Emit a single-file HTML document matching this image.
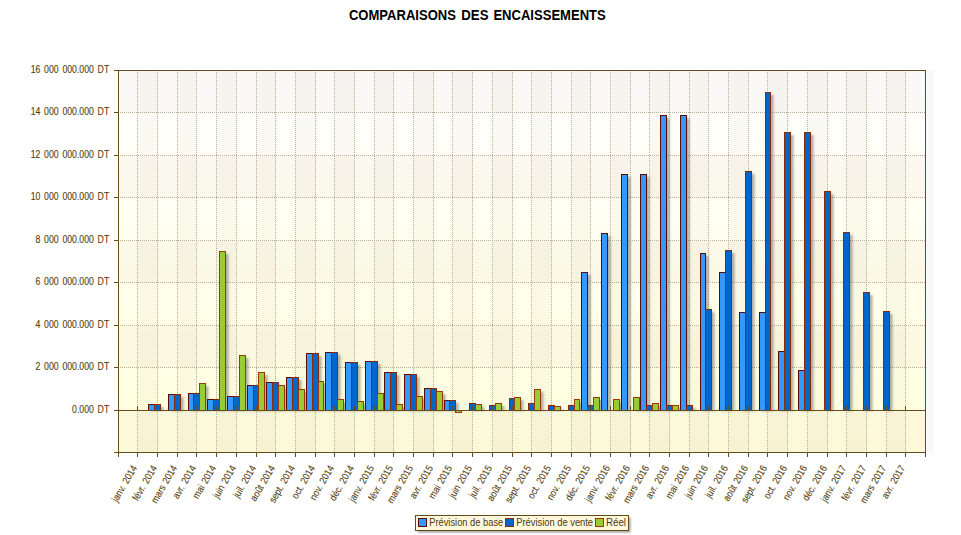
<!DOCTYPE html><html><head><meta charset="utf-8"><style>html,body{margin:0;padding:0;background:#fff;}svg{display:block;font-family:"Liberation Sans",sans-serif;}</style></head><body>
<svg width="961" height="535" viewBox="0 0 961 535">
<defs>
<linearGradient id="bg" x1="0" y1="0" x2="0" y2="1">
<stop offset="0" stop-color="#ffffff"/>
<stop offset="1" stop-color="#ffffdd"/>
</linearGradient>
<filter id="sh" x="-50%" y="-10%" width="200%" height="120%"><feGaussianBlur stdDeviation="1.2"/></filter>
</defs>
<rect x="0" y="0" width="961" height="535" fill="#fff"/>
<text x="348.9" y="19.8" font-weight="bold" font-size="14" textLength="107.0" lengthAdjust="spacingAndGlyphs" fill="#000">COMPARAISONS</text>
<text x="461.3" y="19.8" font-weight="bold" font-size="14" textLength="27.2" lengthAdjust="spacingAndGlyphs" fill="#000">DES</text>
<text x="493.4" y="19.8" font-weight="bold" font-size="14" textLength="112.4" lengthAdjust="spacingAndGlyphs" fill="#000">ENCAISSEMENTS</text>
<rect x="927" y="70" width="7" height="383" fill="#f9f9f8"/>
<rect x="119" y="71" width="806" height="381" fill="url(#bg)"/>
<rect x="119" y="71" width="806" height="42" fill="#a07a5a" fill-opacity="0.045"/>
<rect x="119" y="156" width="806" height="42" fill="#a07a5a" fill-opacity="0.045"/>
<rect x="119" y="241" width="806" height="42" fill="#a07a5a" fill-opacity="0.045"/>
<rect x="119" y="326" width="806" height="42" fill="#a07a5a" fill-opacity="0.045"/>
<rect x="119" y="411" width="806" height="42" fill="#a07a5a" fill-opacity="0.045"/>
<rect x="138" y="71" width="20" height="381" fill="#a07a5a" fill-opacity="0.045"/>
<rect x="178" y="71" width="19" height="381" fill="#a07a5a" fill-opacity="0.045"/>
<rect x="217" y="71" width="20" height="381" fill="#a07a5a" fill-opacity="0.045"/>
<rect x="257" y="71" width="19" height="381" fill="#a07a5a" fill-opacity="0.045"/>
<rect x="296" y="71" width="20" height="381" fill="#a07a5a" fill-opacity="0.045"/>
<rect x="335" y="71" width="20" height="381" fill="#a07a5a" fill-opacity="0.045"/>
<rect x="375" y="71" width="19" height="381" fill="#a07a5a" fill-opacity="0.045"/>
<rect x="414" y="71" width="20" height="381" fill="#a07a5a" fill-opacity="0.045"/>
<rect x="453" y="71" width="20" height="381" fill="#a07a5a" fill-opacity="0.045"/>
<rect x="493" y="71" width="20" height="381" fill="#a07a5a" fill-opacity="0.045"/>
<rect x="532" y="71" width="20" height="381" fill="#a07a5a" fill-opacity="0.045"/>
<rect x="572" y="71" width="19" height="381" fill="#a07a5a" fill-opacity="0.045"/>
<rect x="611" y="71" width="20" height="381" fill="#a07a5a" fill-opacity="0.045"/>
<rect x="650" y="71" width="20" height="381" fill="#a07a5a" fill-opacity="0.045"/>
<rect x="690" y="71" width="19" height="381" fill="#a07a5a" fill-opacity="0.045"/>
<rect x="729" y="71" width="20" height="381" fill="#a07a5a" fill-opacity="0.045"/>
<rect x="768" y="71" width="20" height="381" fill="#a07a5a" fill-opacity="0.045"/>
<rect x="808" y="71" width="20" height="381" fill="#a07a5a" fill-opacity="0.045"/>
<rect x="847" y="71" width="20" height="381" fill="#a07a5a" fill-opacity="0.045"/>
<rect x="887" y="71" width="19" height="381" fill="#a07a5a" fill-opacity="0.045"/>
<line x1="137.5" y1="72" x2="137.5" y2="452" stroke="#b8ad92" stroke-width="1" stroke-dasharray="1 1"/>
<line x1="157.5" y1="72" x2="157.5" y2="452" stroke="#b8ad92" stroke-width="1" stroke-dasharray="1 1"/>
<line x1="177.5" y1="72" x2="177.5" y2="452" stroke="#b8ad92" stroke-width="1" stroke-dasharray="1 1"/>
<line x1="196.5" y1="72" x2="196.5" y2="452" stroke="#b8ad92" stroke-width="1" stroke-dasharray="1 1"/>
<line x1="216.5" y1="72" x2="216.5" y2="452" stroke="#b8ad92" stroke-width="1" stroke-dasharray="1 1"/>
<line x1="236.5" y1="72" x2="236.5" y2="452" stroke="#b8ad92" stroke-width="1" stroke-dasharray="1 1"/>
<line x1="256.5" y1="72" x2="256.5" y2="452" stroke="#b8ad92" stroke-width="1" stroke-dasharray="1 1"/>
<line x1="275.5" y1="72" x2="275.5" y2="452" stroke="#b8ad92" stroke-width="1" stroke-dasharray="1 1"/>
<line x1="295.5" y1="72" x2="295.5" y2="452" stroke="#b8ad92" stroke-width="1" stroke-dasharray="1 1"/>
<line x1="315.5" y1="72" x2="315.5" y2="452" stroke="#b8ad92" stroke-width="1" stroke-dasharray="1 1"/>
<line x1="334.5" y1="72" x2="334.5" y2="452" stroke="#b8ad92" stroke-width="1" stroke-dasharray="1 1"/>
<line x1="354.5" y1="72" x2="354.5" y2="452" stroke="#b8ad92" stroke-width="1" stroke-dasharray="1 1"/>
<line x1="374.5" y1="72" x2="374.5" y2="452" stroke="#b8ad92" stroke-width="1" stroke-dasharray="1 1"/>
<line x1="393.5" y1="72" x2="393.5" y2="452" stroke="#b8ad92" stroke-width="1" stroke-dasharray="1 1"/>
<line x1="413.5" y1="72" x2="413.5" y2="452" stroke="#b8ad92" stroke-width="1" stroke-dasharray="1 1"/>
<line x1="433.5" y1="72" x2="433.5" y2="452" stroke="#b8ad92" stroke-width="1" stroke-dasharray="1 1"/>
<line x1="452.5" y1="72" x2="452.5" y2="452" stroke="#b8ad92" stroke-width="1" stroke-dasharray="1 1"/>
<line x1="472.5" y1="72" x2="472.5" y2="452" stroke="#b8ad92" stroke-width="1" stroke-dasharray="1 1"/>
<line x1="492.5" y1="72" x2="492.5" y2="452" stroke="#b8ad92" stroke-width="1" stroke-dasharray="1 1"/>
<line x1="512.5" y1="72" x2="512.5" y2="452" stroke="#b8ad92" stroke-width="1" stroke-dasharray="1 1"/>
<line x1="531.5" y1="72" x2="531.5" y2="452" stroke="#b8ad92" stroke-width="1" stroke-dasharray="1 1"/>
<line x1="551.5" y1="72" x2="551.5" y2="452" stroke="#b8ad92" stroke-width="1" stroke-dasharray="1 1"/>
<line x1="571.5" y1="72" x2="571.5" y2="452" stroke="#b8ad92" stroke-width="1" stroke-dasharray="1 1"/>
<line x1="590.5" y1="72" x2="590.5" y2="452" stroke="#b8ad92" stroke-width="1" stroke-dasharray="1 1"/>
<line x1="610.5" y1="72" x2="610.5" y2="452" stroke="#b8ad92" stroke-width="1" stroke-dasharray="1 1"/>
<line x1="630.5" y1="72" x2="630.5" y2="452" stroke="#b8ad92" stroke-width="1" stroke-dasharray="1 1"/>
<line x1="649.5" y1="72" x2="649.5" y2="452" stroke="#b8ad92" stroke-width="1" stroke-dasharray="1 1"/>
<line x1="669.5" y1="72" x2="669.5" y2="452" stroke="#b8ad92" stroke-width="1" stroke-dasharray="1 1"/>
<line x1="689.5" y1="72" x2="689.5" y2="452" stroke="#b8ad92" stroke-width="1" stroke-dasharray="1 1"/>
<line x1="708.5" y1="72" x2="708.5" y2="452" stroke="#b8ad92" stroke-width="1" stroke-dasharray="1 1"/>
<line x1="728.5" y1="72" x2="728.5" y2="452" stroke="#b8ad92" stroke-width="1" stroke-dasharray="1 1"/>
<line x1="748.5" y1="72" x2="748.5" y2="452" stroke="#b8ad92" stroke-width="1" stroke-dasharray="1 1"/>
<line x1="767.5" y1="72" x2="767.5" y2="452" stroke="#b8ad92" stroke-width="1" stroke-dasharray="1 1"/>
<line x1="787.5" y1="72" x2="787.5" y2="452" stroke="#b8ad92" stroke-width="1" stroke-dasharray="1 1"/>
<line x1="807.5" y1="72" x2="807.5" y2="452" stroke="#b8ad92" stroke-width="1" stroke-dasharray="1 1"/>
<line x1="827.5" y1="72" x2="827.5" y2="452" stroke="#b8ad92" stroke-width="1" stroke-dasharray="1 1"/>
<line x1="846.5" y1="72" x2="846.5" y2="452" stroke="#b8ad92" stroke-width="1" stroke-dasharray="1 1"/>
<line x1="866.5" y1="72" x2="866.5" y2="452" stroke="#b8ad92" stroke-width="1" stroke-dasharray="1 1"/>
<line x1="886.5" y1="72" x2="886.5" y2="452" stroke="#b8ad92" stroke-width="1" stroke-dasharray="1 1"/>
<line x1="905.5" y1="72" x2="905.5" y2="452" stroke="#b8ad92" stroke-width="1" stroke-dasharray="1 1"/>
<line x1="120" y1="112.5" x2="925" y2="112.5" stroke="#b8ad92" stroke-width="1" stroke-dasharray="1 1"/>
<line x1="120" y1="155.5" x2="925" y2="155.5" stroke="#b8ad92" stroke-width="1" stroke-dasharray="1 1"/>
<line x1="120" y1="197.5" x2="925" y2="197.5" stroke="#b8ad92" stroke-width="1" stroke-dasharray="1 1"/>
<line x1="120" y1="240.5" x2="925" y2="240.5" stroke="#b8ad92" stroke-width="1" stroke-dasharray="1 1"/>
<line x1="120" y1="282.5" x2="925" y2="282.5" stroke="#b8ad92" stroke-width="1" stroke-dasharray="1 1"/>
<line x1="120" y1="325.5" x2="925" y2="325.5" stroke="#b8ad92" stroke-width="1" stroke-dasharray="1 1"/>
<line x1="120" y1="367.5" x2="925" y2="367.5" stroke="#b8ad92" stroke-width="1" stroke-dasharray="1 1"/>
<line x1="120" y1="410.5" x2="925" y2="410.5" stroke="#b8ad92" stroke-width="1" stroke-dasharray="1 1"/>
<rect x="150.5" y="407" width="7" height="4" fill="#404040" fill-opacity="0.42" filter="url(#sh)"/>
<rect x="156.5" y="407" width="7" height="4" fill="#404040" fill-opacity="0.42" filter="url(#sh)"/>
<rect x="170.5" y="397" width="7" height="14" fill="#404040" fill-opacity="0.42" filter="url(#sh)"/>
<rect x="176.5" y="397" width="7" height="14" fill="#404040" fill-opacity="0.42" filter="url(#sh)"/>
<rect x="190.5" y="396" width="6" height="15" fill="#404040" fill-opacity="0.42" filter="url(#sh)"/>
<rect x="195.5" y="396" width="7" height="15" fill="#404040" fill-opacity="0.42" filter="url(#sh)"/>
<rect x="201.5" y="386" width="7" height="25" fill="#404040" fill-opacity="0.42" filter="url(#sh)"/>
<rect x="209.5" y="402" width="7" height="9" fill="#404040" fill-opacity="0.42" filter="url(#sh)"/>
<rect x="215.5" y="402" width="7" height="9" fill="#404040" fill-opacity="0.42" filter="url(#sh)"/>
<rect x="221.5" y="254" width="7" height="157" fill="#404040" fill-opacity="0.42" filter="url(#sh)"/>
<rect x="229.5" y="399" width="7" height="12" fill="#404040" fill-opacity="0.42" filter="url(#sh)"/>
<rect x="235.5" y="399" width="7" height="12" fill="#404040" fill-opacity="0.42" filter="url(#sh)"/>
<rect x="241.5" y="358" width="7" height="53" fill="#404040" fill-opacity="0.42" filter="url(#sh)"/>
<rect x="249.5" y="388" width="7" height="23" fill="#404040" fill-opacity="0.42" filter="url(#sh)"/>
<rect x="255.5" y="388" width="6" height="23" fill="#404040" fill-opacity="0.42" filter="url(#sh)"/>
<rect x="260.5" y="375" width="7" height="36" fill="#404040" fill-opacity="0.42" filter="url(#sh)"/>
<rect x="268.5" y="385" width="7" height="26" fill="#404040" fill-opacity="0.42" filter="url(#sh)"/>
<rect x="274.5" y="385" width="7" height="26" fill="#404040" fill-opacity="0.42" filter="url(#sh)"/>
<rect x="280.5" y="388" width="7" height="23" fill="#404040" fill-opacity="0.42" filter="url(#sh)"/>
<rect x="288.5" y="380" width="7" height="31" fill="#404040" fill-opacity="0.42" filter="url(#sh)"/>
<rect x="294.5" y="380" width="7" height="31" fill="#404040" fill-opacity="0.42" filter="url(#sh)"/>
<rect x="300.5" y="392" width="7" height="19" fill="#404040" fill-opacity="0.42" filter="url(#sh)"/>
<rect x="308.5" y="356" width="7" height="55" fill="#404040" fill-opacity="0.42" filter="url(#sh)"/>
<rect x="314.5" y="356" width="7" height="55" fill="#404040" fill-opacity="0.42" filter="url(#sh)"/>
<rect x="320.5" y="384" width="6" height="27" fill="#404040" fill-opacity="0.42" filter="url(#sh)"/>
<rect x="327.5" y="355" width="7" height="56" fill="#404040" fill-opacity="0.42" filter="url(#sh)"/>
<rect x="333.5" y="355" width="7" height="56" fill="#404040" fill-opacity="0.42" filter="url(#sh)"/>
<rect x="339.5" y="402" width="7" height="9" fill="#404040" fill-opacity="0.42" filter="url(#sh)"/>
<rect x="347.5" y="365" width="7" height="46" fill="#404040" fill-opacity="0.42" filter="url(#sh)"/>
<rect x="353.5" y="365" width="7" height="46" fill="#404040" fill-opacity="0.42" filter="url(#sh)"/>
<rect x="359.5" y="404" width="7" height="7" fill="#404040" fill-opacity="0.42" filter="url(#sh)"/>
<rect x="367.5" y="364" width="7" height="47" fill="#404040" fill-opacity="0.42" filter="url(#sh)"/>
<rect x="373.5" y="364" width="7" height="47" fill="#404040" fill-opacity="0.42" filter="url(#sh)"/>
<rect x="379.5" y="396" width="7" height="15" fill="#404040" fill-opacity="0.42" filter="url(#sh)"/>
<rect x="386.5" y="375" width="7" height="36" fill="#404040" fill-opacity="0.42" filter="url(#sh)"/>
<rect x="392.5" y="375" width="7" height="36" fill="#404040" fill-opacity="0.42" filter="url(#sh)"/>
<rect x="398.5" y="407" width="7" height="4" fill="#404040" fill-opacity="0.42" filter="url(#sh)"/>
<rect x="406.5" y="377" width="7" height="34" fill="#404040" fill-opacity="0.42" filter="url(#sh)"/>
<rect x="412.5" y="377" width="7" height="34" fill="#404040" fill-opacity="0.42" filter="url(#sh)"/>
<rect x="418.5" y="399" width="7" height="12" fill="#404040" fill-opacity="0.42" filter="url(#sh)"/>
<rect x="426.5" y="391" width="7" height="20" fill="#404040" fill-opacity="0.42" filter="url(#sh)"/>
<rect x="432.5" y="391" width="7" height="20" fill="#404040" fill-opacity="0.42" filter="url(#sh)"/>
<rect x="438.5" y="394" width="7" height="17" fill="#404040" fill-opacity="0.42" filter="url(#sh)"/>
<rect x="446.5" y="403" width="6" height="8" fill="#404040" fill-opacity="0.42" filter="url(#sh)"/>
<rect x="451.5" y="403" width="7" height="8" fill="#404040" fill-opacity="0.42" filter="url(#sh)"/>
<rect x="457.5" y="413" width="7" height="0" fill="#404040" fill-opacity="0.42" filter="url(#sh)"/>
<rect x="471.5" y="406" width="7" height="5" fill="#404040" fill-opacity="0.42" filter="url(#sh)"/>
<rect x="477.5" y="407" width="7" height="4" fill="#404040" fill-opacity="0.42" filter="url(#sh)"/>
<rect x="491.5" y="408" width="7" height="3" fill="#404040" fill-opacity="0.42" filter="url(#sh)"/>
<rect x="497.5" y="406" width="7" height="5" fill="#404040" fill-opacity="0.42" filter="url(#sh)"/>
<rect x="511.5" y="401" width="6" height="10" fill="#404040" fill-opacity="0.42" filter="url(#sh)"/>
<rect x="516.5" y="400" width="7" height="11" fill="#404040" fill-opacity="0.42" filter="url(#sh)"/>
<rect x="530.5" y="406" width="7" height="5" fill="#404040" fill-opacity="0.42" filter="url(#sh)"/>
<rect x="536.5" y="392" width="7" height="19" fill="#404040" fill-opacity="0.42" filter="url(#sh)"/>
<rect x="550.5" y="408" width="7" height="3" fill="#404040" fill-opacity="0.42" filter="url(#sh)"/>
<rect x="556.5" y="409" width="7" height="2" fill="#404040" fill-opacity="0.42" filter="url(#sh)"/>
<rect x="570.5" y="408" width="7" height="3" fill="#404040" fill-opacity="0.42" filter="url(#sh)"/>
<rect x="576.5" y="402" width="6" height="9" fill="#404040" fill-opacity="0.42" filter="url(#sh)"/>
<rect x="583.5" y="275" width="7" height="136" fill="#404040" fill-opacity="0.42" filter="url(#sh)"/>
<rect x="589.5" y="408" width="7" height="3" fill="#404040" fill-opacity="0.42" filter="url(#sh)"/>
<rect x="595.5" y="400" width="7" height="11" fill="#404040" fill-opacity="0.42" filter="url(#sh)"/>
<rect x="603.5" y="236" width="7" height="175" fill="#404040" fill-opacity="0.42" filter="url(#sh)"/>
<rect x="615.5" y="402" width="7" height="9" fill="#404040" fill-opacity="0.42" filter="url(#sh)"/>
<rect x="623.5" y="177" width="7" height="234" fill="#404040" fill-opacity="0.42" filter="url(#sh)"/>
<rect x="635.5" y="400" width="7" height="11" fill="#404040" fill-opacity="0.42" filter="url(#sh)"/>
<rect x="642.5" y="177" width="7" height="234" fill="#404040" fill-opacity="0.42" filter="url(#sh)"/>
<rect x="648.5" y="408" width="7" height="3" fill="#404040" fill-opacity="0.42" filter="url(#sh)"/>
<rect x="654.5" y="406" width="7" height="5" fill="#404040" fill-opacity="0.42" filter="url(#sh)"/>
<rect x="662.5" y="118" width="7" height="293" fill="#404040" fill-opacity="0.42" filter="url(#sh)"/>
<rect x="668.5" y="408" width="7" height="3" fill="#404040" fill-opacity="0.42" filter="url(#sh)"/>
<rect x="674.5" y="408" width="7" height="3" fill="#404040" fill-opacity="0.42" filter="url(#sh)"/>
<rect x="682.5" y="118" width="7" height="293" fill="#404040" fill-opacity="0.42" filter="url(#sh)"/>
<rect x="688.5" y="408" width="7" height="3" fill="#404040" fill-opacity="0.42" filter="url(#sh)"/>
<rect x="702.5" y="256" width="6" height="155" fill="#404040" fill-opacity="0.42" filter="url(#sh)"/>
<rect x="707.5" y="312" width="7" height="99" fill="#404040" fill-opacity="0.42" filter="url(#sh)"/>
<rect x="721.5" y="275" width="7" height="136" fill="#404040" fill-opacity="0.42" filter="url(#sh)"/>
<rect x="727.5" y="253" width="7" height="158" fill="#404040" fill-opacity="0.42" filter="url(#sh)"/>
<rect x="741.5" y="315" width="7" height="96" fill="#404040" fill-opacity="0.42" filter="url(#sh)"/>
<rect x="747.5" y="174" width="7" height="237" fill="#404040" fill-opacity="0.42" filter="url(#sh)"/>
<rect x="761.5" y="315" width="7" height="96" fill="#404040" fill-opacity="0.42" filter="url(#sh)"/>
<rect x="767.5" y="95" width="6" height="316" fill="#404040" fill-opacity="0.42" filter="url(#sh)"/>
<rect x="780.5" y="354" width="7" height="57" fill="#404040" fill-opacity="0.42" filter="url(#sh)"/>
<rect x="786.5" y="135" width="7" height="276" fill="#404040" fill-opacity="0.42" filter="url(#sh)"/>
<rect x="800.5" y="373" width="7" height="38" fill="#404040" fill-opacity="0.42" filter="url(#sh)"/>
<rect x="806.5" y="135" width="7" height="276" fill="#404040" fill-opacity="0.42" filter="url(#sh)"/>
<rect x="826.5" y="194" width="7" height="217" fill="#404040" fill-opacity="0.42" filter="url(#sh)"/>
<rect x="845.5" y="235" width="7" height="176" fill="#404040" fill-opacity="0.42" filter="url(#sh)"/>
<rect x="865.5" y="295" width="7" height="116" fill="#404040" fill-opacity="0.42" filter="url(#sh)"/>
<rect x="885.5" y="314" width="7" height="97" fill="#404040" fill-opacity="0.42" filter="url(#sh)"/>
<rect x="148.5" y="404.5" width="6" height="6" fill="#3399ff" stroke="#5a0a00" stroke-width="1"/>
<rect x="154.5" y="404.5" width="6" height="6" fill="#0066cc" stroke="#8b2a00" stroke-width="1"/>
<rect x="168.5" y="394.5" width="6" height="16" fill="#3399ff" stroke="#5a0a00" stroke-width="1"/>
<rect x="174.5" y="394.5" width="6" height="16" fill="#0066cc" stroke="#8b2a00" stroke-width="1"/>
<rect x="188.5" y="393.5" width="5" height="17" fill="#3399ff" stroke="#5a0a00" stroke-width="1"/>
<rect x="193.5" y="393.5" width="6" height="17" fill="#0066cc" stroke="#8b2a00" stroke-width="1"/>
<rect x="199.5" y="383.5" width="6" height="27" fill="#99cc33" stroke="#9a3a0a" stroke-width="1"/>
<rect x="207.5" y="399.5" width="6" height="11" fill="#3399ff" stroke="#5a0a00" stroke-width="1"/>
<rect x="213.5" y="399.5" width="6" height="11" fill="#0066cc" stroke="#8b2a00" stroke-width="1"/>
<rect x="219.5" y="251.5" width="6" height="159" fill="#99cc33" stroke="#9a3a0a" stroke-width="1"/>
<rect x="227.5" y="396.5" width="6" height="14" fill="#3399ff" stroke="#5a0a00" stroke-width="1"/>
<rect x="233.5" y="396.5" width="6" height="14" fill="#0066cc" stroke="#8b2a00" stroke-width="1"/>
<rect x="239.5" y="355.5" width="6" height="55" fill="#99cc33" stroke="#9a3a0a" stroke-width="1"/>
<rect x="247.5" y="385.5" width="6" height="25" fill="#3399ff" stroke="#5a0a00" stroke-width="1"/>
<rect x="253.5" y="385.5" width="5" height="25" fill="#0066cc" stroke="#8b2a00" stroke-width="1"/>
<rect x="258.5" y="372.5" width="6" height="38" fill="#99cc33" stroke="#9a3a0a" stroke-width="1"/>
<rect x="266.5" y="382.5" width="6" height="28" fill="#3399ff" stroke="#5a0a00" stroke-width="1"/>
<rect x="272.5" y="382.5" width="6" height="28" fill="#0066cc" stroke="#8b2a00" stroke-width="1"/>
<rect x="278.5" y="385.5" width="6" height="25" fill="#99cc33" stroke="#9a3a0a" stroke-width="1"/>
<rect x="286.5" y="377.5" width="6" height="33" fill="#3399ff" stroke="#5a0a00" stroke-width="1"/>
<rect x="292.5" y="377.5" width="6" height="33" fill="#0066cc" stroke="#8b2a00" stroke-width="1"/>
<rect x="298.5" y="389.5" width="6" height="21" fill="#99cc33" stroke="#9a3a0a" stroke-width="1"/>
<rect x="306.5" y="353.5" width="6" height="57" fill="#3399ff" stroke="#5a0a00" stroke-width="1"/>
<rect x="312.5" y="353.5" width="6" height="57" fill="#0066cc" stroke="#8b2a00" stroke-width="1"/>
<rect x="318.5" y="381.5" width="5" height="29" fill="#99cc33" stroke="#9a3a0a" stroke-width="1"/>
<rect x="325.5" y="352.5" width="6" height="58" fill="#3399ff" stroke="#5a0a00" stroke-width="1"/>
<rect x="331.5" y="352.5" width="6" height="58" fill="#0066cc" stroke="#8b2a00" stroke-width="1"/>
<rect x="337.5" y="399.5" width="6" height="11" fill="#99cc33" stroke="#9a3a0a" stroke-width="1"/>
<rect x="345.5" y="362.5" width="6" height="48" fill="#3399ff" stroke="#5a0a00" stroke-width="1"/>
<rect x="351.5" y="362.5" width="6" height="48" fill="#0066cc" stroke="#8b2a00" stroke-width="1"/>
<rect x="357.5" y="401.5" width="6" height="9" fill="#99cc33" stroke="#9a3a0a" stroke-width="1"/>
<rect x="365.5" y="361.5" width="6" height="49" fill="#3399ff" stroke="#5a0a00" stroke-width="1"/>
<rect x="371.5" y="361.5" width="6" height="49" fill="#0066cc" stroke="#8b2a00" stroke-width="1"/>
<rect x="377.5" y="393.5" width="6" height="17" fill="#99cc33" stroke="#9a3a0a" stroke-width="1"/>
<rect x="384.5" y="372.5" width="6" height="38" fill="#3399ff" stroke="#5a0a00" stroke-width="1"/>
<rect x="390.5" y="372.5" width="6" height="38" fill="#0066cc" stroke="#8b2a00" stroke-width="1"/>
<rect x="396.5" y="404.5" width="6" height="6" fill="#99cc33" stroke="#9a3a0a" stroke-width="1"/>
<rect x="404.5" y="374.5" width="6" height="36" fill="#3399ff" stroke="#5a0a00" stroke-width="1"/>
<rect x="410.5" y="374.5" width="6" height="36" fill="#0066cc" stroke="#8b2a00" stroke-width="1"/>
<rect x="416.5" y="396.5" width="6" height="14" fill="#99cc33" stroke="#9a3a0a" stroke-width="1"/>
<rect x="424.5" y="388.5" width="6" height="22" fill="#3399ff" stroke="#5a0a00" stroke-width="1"/>
<rect x="430.5" y="388.5" width="6" height="22" fill="#0066cc" stroke="#8b2a00" stroke-width="1"/>
<rect x="436.5" y="391.5" width="6" height="19" fill="#99cc33" stroke="#9a3a0a" stroke-width="1"/>
<rect x="444.5" y="400.5" width="5" height="10" fill="#3399ff" stroke="#5a0a00" stroke-width="1"/>
<rect x="449.5" y="400.5" width="6" height="10" fill="#0066cc" stroke="#8b2a00" stroke-width="1"/>
<rect x="455.5" y="410.5" width="6" height="2" fill="#99cc33" stroke="#9a3a0a" stroke-width="1"/>
<rect x="469.5" y="403.5" width="6" height="7" fill="#0066cc" stroke="#8b2a00" stroke-width="1"/>
<rect x="475.5" y="404.5" width="6" height="6" fill="#99cc33" stroke="#9a3a0a" stroke-width="1"/>
<rect x="489.5" y="405.5" width="6" height="5" fill="#0066cc" stroke="#8b2a00" stroke-width="1"/>
<rect x="495.5" y="403.5" width="6" height="7" fill="#99cc33" stroke="#9a3a0a" stroke-width="1"/>
<rect x="509.5" y="398.5" width="5" height="12" fill="#0066cc" stroke="#8b2a00" stroke-width="1"/>
<rect x="514.5" y="397.5" width="6" height="13" fill="#99cc33" stroke="#9a3a0a" stroke-width="1"/>
<rect x="528.5" y="403.5" width="6" height="7" fill="#0066cc" stroke="#8b2a00" stroke-width="1"/>
<rect x="534.5" y="389.5" width="6" height="21" fill="#99cc33" stroke="#9a3a0a" stroke-width="1"/>
<rect x="548.5" y="405.5" width="6" height="5" fill="#0066cc" stroke="#8b2a00" stroke-width="1"/>
<rect x="554.5" y="406.5" width="6" height="4" fill="#99cc33" stroke="#9a3a0a" stroke-width="1"/>
<rect x="568.5" y="405.5" width="6" height="5" fill="#0066cc" stroke="#8b2a00" stroke-width="1"/>
<rect x="574.5" y="399.5" width="5" height="11" fill="#99cc33" stroke="#9a3a0a" stroke-width="1"/>
<rect x="581.5" y="272.5" width="6" height="138" fill="#3399ff" stroke="#5a0a00" stroke-width="1"/>
<rect x="587.5" y="405.5" width="6" height="5" fill="#0066cc" stroke="#8b2a00" stroke-width="1"/>
<rect x="593.5" y="397.5" width="6" height="13" fill="#99cc33" stroke="#9a3a0a" stroke-width="1"/>
<rect x="601.5" y="233.5" width="6" height="177" fill="#3399ff" stroke="#5a0a00" stroke-width="1"/>
<rect x="613.5" y="399.5" width="6" height="11" fill="#99cc33" stroke="#9a3a0a" stroke-width="1"/>
<rect x="621.5" y="174.5" width="6" height="236" fill="#3399ff" stroke="#5a0a00" stroke-width="1"/>
<rect x="633.5" y="397.5" width="6" height="13" fill="#99cc33" stroke="#9a3a0a" stroke-width="1"/>
<rect x="640.5" y="174.5" width="6" height="236" fill="#3399ff" stroke="#5a0a00" stroke-width="1"/>
<rect x="646.5" y="405.5" width="6" height="5" fill="#0066cc" stroke="#8b2a00" stroke-width="1"/>
<rect x="652.5" y="403.5" width="6" height="7" fill="#99cc33" stroke="#9a3a0a" stroke-width="1"/>
<rect x="660.5" y="115.5" width="6" height="295" fill="#3399ff" stroke="#5a0a00" stroke-width="1"/>
<rect x="666.5" y="405.5" width="6" height="5" fill="#0066cc" stroke="#8b2a00" stroke-width="1"/>
<rect x="672.5" y="405.5" width="6" height="5" fill="#99cc33" stroke="#9a3a0a" stroke-width="1"/>
<rect x="680.5" y="115.5" width="6" height="295" fill="#3399ff" stroke="#5a0a00" stroke-width="1"/>
<rect x="686.5" y="405.5" width="6" height="5" fill="#0066cc" stroke="#8b2a00" stroke-width="1"/>
<rect x="700.5" y="253.5" width="5" height="157" fill="#3399ff" stroke="#5a0a00" stroke-width="1"/>
<rect x="705.5" y="309.5" width="6" height="101" fill="#0066cc" stroke="#8b2a00" stroke-width="1"/>
<rect x="719.5" y="272.5" width="6" height="138" fill="#3399ff" stroke="#5a0a00" stroke-width="1"/>
<rect x="725.5" y="250.5" width="6" height="160" fill="#0066cc" stroke="#8b2a00" stroke-width="1"/>
<rect x="739.5" y="312.5" width="6" height="98" fill="#3399ff" stroke="#5a0a00" stroke-width="1"/>
<rect x="745.5" y="171.5" width="6" height="239" fill="#0066cc" stroke="#8b2a00" stroke-width="1"/>
<rect x="759.5" y="312.5" width="6" height="98" fill="#3399ff" stroke="#5a0a00" stroke-width="1"/>
<rect x="765.5" y="92.5" width="5" height="318" fill="#0066cc" stroke="#8b2a00" stroke-width="1"/>
<rect x="778.5" y="351.5" width="6" height="59" fill="#3399ff" stroke="#5a0a00" stroke-width="1"/>
<rect x="784.5" y="132.5" width="6" height="278" fill="#0066cc" stroke="#8b2a00" stroke-width="1"/>
<rect x="798.5" y="370.5" width="6" height="40" fill="#3399ff" stroke="#5a0a00" stroke-width="1"/>
<rect x="804.5" y="132.5" width="6" height="278" fill="#0066cc" stroke="#8b2a00" stroke-width="1"/>
<rect x="824.5" y="191.5" width="6" height="219" fill="#0066cc" stroke="#8b2a00" stroke-width="1"/>
<rect x="843.5" y="232.5" width="6" height="178" fill="#0066cc" stroke="#8b2a00" stroke-width="1"/>
<rect x="863.5" y="292.5" width="6" height="118" fill="#0066cc" stroke="#8b2a00" stroke-width="1"/>
<rect x="883.5" y="311.5" width="6" height="99" fill="#0066cc" stroke="#8b2a00" stroke-width="1"/>
<line x1="118" y1="410.5" x2="925" y2="410.5" stroke="#654b1c" stroke-width="1"/>
<line x1="137.5" y1="406" x2="137.5" y2="410" stroke="#654b1c" stroke-width="1"/>
<line x1="157.5" y1="406" x2="157.5" y2="410" stroke="#654b1c" stroke-width="1"/>
<line x1="177.5" y1="406" x2="177.5" y2="410" stroke="#654b1c" stroke-width="1"/>
<line x1="196.5" y1="406" x2="196.5" y2="410" stroke="#654b1c" stroke-width="1"/>
<line x1="216.5" y1="406" x2="216.5" y2="410" stroke="#654b1c" stroke-width="1"/>
<line x1="236.5" y1="406" x2="236.5" y2="410" stroke="#654b1c" stroke-width="1"/>
<line x1="256.5" y1="406" x2="256.5" y2="410" stroke="#654b1c" stroke-width="1"/>
<line x1="275.5" y1="406" x2="275.5" y2="410" stroke="#654b1c" stroke-width="1"/>
<line x1="295.5" y1="406" x2="295.5" y2="410" stroke="#654b1c" stroke-width="1"/>
<line x1="315.5" y1="406" x2="315.5" y2="410" stroke="#654b1c" stroke-width="1"/>
<line x1="334.5" y1="406" x2="334.5" y2="410" stroke="#654b1c" stroke-width="1"/>
<line x1="354.5" y1="406" x2="354.5" y2="410" stroke="#654b1c" stroke-width="1"/>
<line x1="374.5" y1="406" x2="374.5" y2="410" stroke="#654b1c" stroke-width="1"/>
<line x1="393.5" y1="406" x2="393.5" y2="410" stroke="#654b1c" stroke-width="1"/>
<line x1="413.5" y1="406" x2="413.5" y2="410" stroke="#654b1c" stroke-width="1"/>
<line x1="433.5" y1="406" x2="433.5" y2="410" stroke="#654b1c" stroke-width="1"/>
<line x1="452.5" y1="406" x2="452.5" y2="410" stroke="#654b1c" stroke-width="1"/>
<line x1="472.5" y1="406" x2="472.5" y2="410" stroke="#654b1c" stroke-width="1"/>
<line x1="492.5" y1="406" x2="492.5" y2="410" stroke="#654b1c" stroke-width="1"/>
<line x1="512.5" y1="406" x2="512.5" y2="410" stroke="#654b1c" stroke-width="1"/>
<line x1="531.5" y1="406" x2="531.5" y2="410" stroke="#654b1c" stroke-width="1"/>
<line x1="551.5" y1="406" x2="551.5" y2="410" stroke="#654b1c" stroke-width="1"/>
<line x1="571.5" y1="406" x2="571.5" y2="410" stroke="#654b1c" stroke-width="1"/>
<line x1="590.5" y1="406" x2="590.5" y2="410" stroke="#654b1c" stroke-width="1"/>
<line x1="610.5" y1="406" x2="610.5" y2="410" stroke="#654b1c" stroke-width="1"/>
<line x1="630.5" y1="406" x2="630.5" y2="410" stroke="#654b1c" stroke-width="1"/>
<line x1="649.5" y1="406" x2="649.5" y2="410" stroke="#654b1c" stroke-width="1"/>
<line x1="669.5" y1="406" x2="669.5" y2="410" stroke="#654b1c" stroke-width="1"/>
<line x1="689.5" y1="406" x2="689.5" y2="410" stroke="#654b1c" stroke-width="1"/>
<line x1="708.5" y1="406" x2="708.5" y2="410" stroke="#654b1c" stroke-width="1"/>
<line x1="728.5" y1="406" x2="728.5" y2="410" stroke="#654b1c" stroke-width="1"/>
<line x1="748.5" y1="406" x2="748.5" y2="410" stroke="#654b1c" stroke-width="1"/>
<line x1="767.5" y1="406" x2="767.5" y2="410" stroke="#654b1c" stroke-width="1"/>
<line x1="787.5" y1="406" x2="787.5" y2="410" stroke="#654b1c" stroke-width="1"/>
<line x1="807.5" y1="406" x2="807.5" y2="410" stroke="#654b1c" stroke-width="1"/>
<line x1="827.5" y1="406" x2="827.5" y2="410" stroke="#654b1c" stroke-width="1"/>
<line x1="846.5" y1="406" x2="846.5" y2="410" stroke="#654b1c" stroke-width="1"/>
<line x1="866.5" y1="406" x2="866.5" y2="410" stroke="#654b1c" stroke-width="1"/>
<line x1="886.5" y1="406" x2="886.5" y2="410" stroke="#654b1c" stroke-width="1"/>
<line x1="905.5" y1="406" x2="905.5" y2="410" stroke="#654b1c" stroke-width="1"/>
<line x1="118.5" y1="70" x2="118.5" y2="453" stroke="#654b1c" stroke-width="1"/>
<line x1="925.5" y1="70" x2="925.5" y2="457" stroke="#654b1c" stroke-width="1"/>
<line x1="114" y1="70.5" x2="926" y2="70.5" stroke="#654b1c" stroke-width="1"/>
<line x1="114" y1="452.5" x2="926" y2="452.5" stroke="#654b1c" stroke-width="1"/>
<line x1="114" y1="70.5" x2="118" y2="70.5" stroke="#654b1c" stroke-width="1"/>
<text transform="translate(109.2,73.00) scale(0.87,1)" text-anchor="end" font-size="10" word-spacing="1.6" fill="#56410f" stroke="#56410f" stroke-width="0.12">16 000 000.000 DT</text>
<line x1="114" y1="112.5" x2="118" y2="112.5" stroke="#654b1c" stroke-width="1"/>
<text transform="translate(109.2,115.00) scale(0.87,1)" text-anchor="end" font-size="10" word-spacing="1.6" fill="#56410f" stroke="#56410f" stroke-width="0.12">14 000 000.000 DT</text>
<line x1="114" y1="155.5" x2="118" y2="155.5" stroke="#654b1c" stroke-width="1"/>
<text transform="translate(109.2,158.00) scale(0.87,1)" text-anchor="end" font-size="10" word-spacing="1.6" fill="#56410f" stroke="#56410f" stroke-width="0.12">12 000 000.000 DT</text>
<line x1="114" y1="197.5" x2="118" y2="197.5" stroke="#654b1c" stroke-width="1"/>
<text transform="translate(109.2,200.00) scale(0.87,1)" text-anchor="end" font-size="10" word-spacing="1.6" fill="#56410f" stroke="#56410f" stroke-width="0.12">10 000 000.000 DT</text>
<line x1="114" y1="240.5" x2="118" y2="240.5" stroke="#654b1c" stroke-width="1"/>
<text transform="translate(109.2,243.00) scale(0.87,1)" text-anchor="end" font-size="10" word-spacing="1.6" fill="#56410f" stroke="#56410f" stroke-width="0.12">8 000 000.000 DT</text>
<line x1="114" y1="282.5" x2="118" y2="282.5" stroke="#654b1c" stroke-width="1"/>
<text transform="translate(109.2,285.00) scale(0.87,1)" text-anchor="end" font-size="10" word-spacing="1.6" fill="#56410f" stroke="#56410f" stroke-width="0.12">6 000 000.000 DT</text>
<line x1="114" y1="325.5" x2="118" y2="325.5" stroke="#654b1c" stroke-width="1"/>
<text transform="translate(109.2,328.00) scale(0.87,1)" text-anchor="end" font-size="10" word-spacing="1.6" fill="#56410f" stroke="#56410f" stroke-width="0.12">4 000 000.000 DT</text>
<line x1="114" y1="367.5" x2="118" y2="367.5" stroke="#654b1c" stroke-width="1"/>
<text transform="translate(109.2,370.00) scale(0.87,1)" text-anchor="end" font-size="10" word-spacing="1.6" fill="#56410f" stroke="#56410f" stroke-width="0.12">2 000 000.000 DT</text>
<line x1="114" y1="410.5" x2="118" y2="410.5" stroke="#654b1c" stroke-width="1"/>
<text transform="translate(109.2,413.00) scale(0.87,1)" text-anchor="end" font-size="10" word-spacing="1.6" fill="#56410f" stroke="#56410f" stroke-width="0.12">0.000 DT</text>
<line x1="114" y1="452.5" x2="118" y2="452.5" stroke="#654b1c" stroke-width="1"/>
<line x1="118.5" y1="452" x2="118.5" y2="457" stroke="#654b1c" stroke-width="1"/>
<line x1="137.5" y1="452" x2="137.5" y2="457" stroke="#654b1c" stroke-width="1"/>
<line x1="157.5" y1="452" x2="157.5" y2="457" stroke="#654b1c" stroke-width="1"/>
<line x1="177.5" y1="452" x2="177.5" y2="457" stroke="#654b1c" stroke-width="1"/>
<line x1="196.5" y1="452" x2="196.5" y2="457" stroke="#654b1c" stroke-width="1"/>
<line x1="216.5" y1="452" x2="216.5" y2="457" stroke="#654b1c" stroke-width="1"/>
<line x1="236.5" y1="452" x2="236.5" y2="457" stroke="#654b1c" stroke-width="1"/>
<line x1="256.5" y1="452" x2="256.5" y2="457" stroke="#654b1c" stroke-width="1"/>
<line x1="275.5" y1="452" x2="275.5" y2="457" stroke="#654b1c" stroke-width="1"/>
<line x1="295.5" y1="452" x2="295.5" y2="457" stroke="#654b1c" stroke-width="1"/>
<line x1="315.5" y1="452" x2="315.5" y2="457" stroke="#654b1c" stroke-width="1"/>
<line x1="334.5" y1="452" x2="334.5" y2="457" stroke="#654b1c" stroke-width="1"/>
<line x1="354.5" y1="452" x2="354.5" y2="457" stroke="#654b1c" stroke-width="1"/>
<line x1="374.5" y1="452" x2="374.5" y2="457" stroke="#654b1c" stroke-width="1"/>
<line x1="393.5" y1="452" x2="393.5" y2="457" stroke="#654b1c" stroke-width="1"/>
<line x1="413.5" y1="452" x2="413.5" y2="457" stroke="#654b1c" stroke-width="1"/>
<line x1="433.5" y1="452" x2="433.5" y2="457" stroke="#654b1c" stroke-width="1"/>
<line x1="452.5" y1="452" x2="452.5" y2="457" stroke="#654b1c" stroke-width="1"/>
<line x1="472.5" y1="452" x2="472.5" y2="457" stroke="#654b1c" stroke-width="1"/>
<line x1="492.5" y1="452" x2="492.5" y2="457" stroke="#654b1c" stroke-width="1"/>
<line x1="512.5" y1="452" x2="512.5" y2="457" stroke="#654b1c" stroke-width="1"/>
<line x1="531.5" y1="452" x2="531.5" y2="457" stroke="#654b1c" stroke-width="1"/>
<line x1="551.5" y1="452" x2="551.5" y2="457" stroke="#654b1c" stroke-width="1"/>
<line x1="571.5" y1="452" x2="571.5" y2="457" stroke="#654b1c" stroke-width="1"/>
<line x1="590.5" y1="452" x2="590.5" y2="457" stroke="#654b1c" stroke-width="1"/>
<line x1="610.5" y1="452" x2="610.5" y2="457" stroke="#654b1c" stroke-width="1"/>
<line x1="630.5" y1="452" x2="630.5" y2="457" stroke="#654b1c" stroke-width="1"/>
<line x1="649.5" y1="452" x2="649.5" y2="457" stroke="#654b1c" stroke-width="1"/>
<line x1="669.5" y1="452" x2="669.5" y2="457" stroke="#654b1c" stroke-width="1"/>
<line x1="689.5" y1="452" x2="689.5" y2="457" stroke="#654b1c" stroke-width="1"/>
<line x1="708.5" y1="452" x2="708.5" y2="457" stroke="#654b1c" stroke-width="1"/>
<line x1="728.5" y1="452" x2="728.5" y2="457" stroke="#654b1c" stroke-width="1"/>
<line x1="748.5" y1="452" x2="748.5" y2="457" stroke="#654b1c" stroke-width="1"/>
<line x1="767.5" y1="452" x2="767.5" y2="457" stroke="#654b1c" stroke-width="1"/>
<line x1="787.5" y1="452" x2="787.5" y2="457" stroke="#654b1c" stroke-width="1"/>
<line x1="807.5" y1="452" x2="807.5" y2="457" stroke="#654b1c" stroke-width="1"/>
<line x1="827.5" y1="452" x2="827.5" y2="457" stroke="#654b1c" stroke-width="1"/>
<line x1="846.5" y1="452" x2="846.5" y2="457" stroke="#654b1c" stroke-width="1"/>
<line x1="866.5" y1="452" x2="866.5" y2="457" stroke="#654b1c" stroke-width="1"/>
<line x1="886.5" y1="452" x2="886.5" y2="457" stroke="#654b1c" stroke-width="1"/>
<line x1="905.5" y1="452" x2="905.5" y2="457" stroke="#654b1c" stroke-width="1"/>
<line x1="925.5" y1="452" x2="925.5" y2="457" stroke="#654b1c" stroke-width="1"/>
<text transform="translate(137.30,467.8) rotate(-60) scale(0.87,1)" text-anchor="end" font-size="10" word-spacing="0.9" fill="#56410f" stroke="#56410f" stroke-width="0.1">janv. 2014</text>
<text transform="translate(157.30,467.8) rotate(-60) scale(0.87,1)" text-anchor="end" font-size="10" word-spacing="0.9" fill="#56410f" stroke="#56410f" stroke-width="0.1">févr. 2014</text>
<text transform="translate(177.30,467.8) rotate(-60) scale(0.87,1)" text-anchor="end" font-size="10" word-spacing="0.9" fill="#56410f" stroke="#56410f" stroke-width="0.1">mars 2014</text>
<text transform="translate(196.30,467.8) rotate(-60) scale(0.87,1)" text-anchor="end" font-size="10" word-spacing="0.9" fill="#56410f" stroke="#56410f" stroke-width="0.1">avr. 2014</text>
<text transform="translate(216.30,467.8) rotate(-60) scale(0.87,1)" text-anchor="end" font-size="10" word-spacing="0.9" fill="#56410f" stroke="#56410f" stroke-width="0.1">mai 2014</text>
<text transform="translate(236.30,467.8) rotate(-60) scale(0.87,1)" text-anchor="end" font-size="10" word-spacing="0.9" fill="#56410f" stroke="#56410f" stroke-width="0.1">juin 2014</text>
<text transform="translate(256.30,467.8) rotate(-60) scale(0.87,1)" text-anchor="end" font-size="10" word-spacing="0.9" fill="#56410f" stroke="#56410f" stroke-width="0.1">juil. 2014</text>
<text transform="translate(275.30,467.8) rotate(-60) scale(0.87,1)" text-anchor="end" font-size="10" word-spacing="0.9" fill="#56410f" stroke="#56410f" stroke-width="0.1">août 2014</text>
<text transform="translate(295.30,467.8) rotate(-60) scale(0.87,1)" text-anchor="end" font-size="10" word-spacing="0.9" fill="#56410f" stroke="#56410f" stroke-width="0.1">sept. 2014</text>
<text transform="translate(315.30,467.8) rotate(-60) scale(0.87,1)" text-anchor="end" font-size="10" word-spacing="0.9" fill="#56410f" stroke="#56410f" stroke-width="0.1">oct. 2014</text>
<text transform="translate(334.30,467.8) rotate(-60) scale(0.87,1)" text-anchor="end" font-size="10" word-spacing="0.9" fill="#56410f" stroke="#56410f" stroke-width="0.1">nov. 2014</text>
<text transform="translate(354.30,467.8) rotate(-60) scale(0.87,1)" text-anchor="end" font-size="10" word-spacing="0.9" fill="#56410f" stroke="#56410f" stroke-width="0.1">déc. 2014</text>
<text transform="translate(374.30,467.8) rotate(-60) scale(0.87,1)" text-anchor="end" font-size="10" word-spacing="0.9" fill="#56410f" stroke="#56410f" stroke-width="0.1">janv. 2015</text>
<text transform="translate(393.30,467.8) rotate(-60) scale(0.87,1)" text-anchor="end" font-size="10" word-spacing="0.9" fill="#56410f" stroke="#56410f" stroke-width="0.1">févr. 2015</text>
<text transform="translate(413.30,467.8) rotate(-60) scale(0.87,1)" text-anchor="end" font-size="10" word-spacing="0.9" fill="#56410f" stroke="#56410f" stroke-width="0.1">mars 2015</text>
<text transform="translate(433.30,467.8) rotate(-60) scale(0.87,1)" text-anchor="end" font-size="10" word-spacing="0.9" fill="#56410f" stroke="#56410f" stroke-width="0.1">avr. 2015</text>
<text transform="translate(452.30,467.8) rotate(-60) scale(0.87,1)" text-anchor="end" font-size="10" word-spacing="0.9" fill="#56410f" stroke="#56410f" stroke-width="0.1">mai 2015</text>
<text transform="translate(472.30,467.8) rotate(-60) scale(0.87,1)" text-anchor="end" font-size="10" word-spacing="0.9" fill="#56410f" stroke="#56410f" stroke-width="0.1">juin 2015</text>
<text transform="translate(492.30,467.8) rotate(-60) scale(0.87,1)" text-anchor="end" font-size="10" word-spacing="0.9" fill="#56410f" stroke="#56410f" stroke-width="0.1">juil. 2015</text>
<text transform="translate(512.30,467.8) rotate(-60) scale(0.87,1)" text-anchor="end" font-size="10" word-spacing="0.9" fill="#56410f" stroke="#56410f" stroke-width="0.1">août 2015</text>
<text transform="translate(531.30,467.8) rotate(-60) scale(0.87,1)" text-anchor="end" font-size="10" word-spacing="0.9" fill="#56410f" stroke="#56410f" stroke-width="0.1">sept. 2015</text>
<text transform="translate(551.30,467.8) rotate(-60) scale(0.87,1)" text-anchor="end" font-size="10" word-spacing="0.9" fill="#56410f" stroke="#56410f" stroke-width="0.1">oct. 2015</text>
<text transform="translate(571.30,467.8) rotate(-60) scale(0.87,1)" text-anchor="end" font-size="10" word-spacing="0.9" fill="#56410f" stroke="#56410f" stroke-width="0.1">nov. 2015</text>
<text transform="translate(590.30,467.8) rotate(-60) scale(0.87,1)" text-anchor="end" font-size="10" word-spacing="0.9" fill="#56410f" stroke="#56410f" stroke-width="0.1">déc. 2015</text>
<text transform="translate(610.30,467.8) rotate(-60) scale(0.87,1)" text-anchor="end" font-size="10" word-spacing="0.9" fill="#56410f" stroke="#56410f" stroke-width="0.1">janv. 2016</text>
<text transform="translate(630.30,467.8) rotate(-60) scale(0.87,1)" text-anchor="end" font-size="10" word-spacing="0.9" fill="#56410f" stroke="#56410f" stroke-width="0.1">févr. 2016</text>
<text transform="translate(649.30,467.8) rotate(-60) scale(0.87,1)" text-anchor="end" font-size="10" word-spacing="0.9" fill="#56410f" stroke="#56410f" stroke-width="0.1">mars 2016</text>
<text transform="translate(669.30,467.8) rotate(-60) scale(0.87,1)" text-anchor="end" font-size="10" word-spacing="0.9" fill="#56410f" stroke="#56410f" stroke-width="0.1">avr. 2016</text>
<text transform="translate(689.30,467.8) rotate(-60) scale(0.87,1)" text-anchor="end" font-size="10" word-spacing="0.9" fill="#56410f" stroke="#56410f" stroke-width="0.1">mai 2016</text>
<text transform="translate(708.30,467.8) rotate(-60) scale(0.87,1)" text-anchor="end" font-size="10" word-spacing="0.9" fill="#56410f" stroke="#56410f" stroke-width="0.1">juin 2016</text>
<text transform="translate(728.30,467.8) rotate(-60) scale(0.87,1)" text-anchor="end" font-size="10" word-spacing="0.9" fill="#56410f" stroke="#56410f" stroke-width="0.1">juil. 2016</text>
<text transform="translate(748.30,467.8) rotate(-60) scale(0.87,1)" text-anchor="end" font-size="10" word-spacing="0.9" fill="#56410f" stroke="#56410f" stroke-width="0.1">août 2016</text>
<text transform="translate(767.30,467.8) rotate(-60) scale(0.87,1)" text-anchor="end" font-size="10" word-spacing="0.9" fill="#56410f" stroke="#56410f" stroke-width="0.1">sept. 2016</text>
<text transform="translate(787.30,467.8) rotate(-60) scale(0.87,1)" text-anchor="end" font-size="10" word-spacing="0.9" fill="#56410f" stroke="#56410f" stroke-width="0.1">oct. 2016</text>
<text transform="translate(807.30,467.8) rotate(-60) scale(0.87,1)" text-anchor="end" font-size="10" word-spacing="0.9" fill="#56410f" stroke="#56410f" stroke-width="0.1">nov. 2016</text>
<text transform="translate(827.30,467.8) rotate(-60) scale(0.87,1)" text-anchor="end" font-size="10" word-spacing="0.9" fill="#56410f" stroke="#56410f" stroke-width="0.1">déc. 2016</text>
<text transform="translate(846.30,467.8) rotate(-60) scale(0.87,1)" text-anchor="end" font-size="10" word-spacing="0.9" fill="#56410f" stroke="#56410f" stroke-width="0.1">janv. 2017</text>
<text transform="translate(866.30,467.8) rotate(-60) scale(0.87,1)" text-anchor="end" font-size="10" word-spacing="0.9" fill="#56410f" stroke="#56410f" stroke-width="0.1">févr. 2017</text>
<text transform="translate(886.30,467.8) rotate(-60) scale(0.87,1)" text-anchor="end" font-size="10" word-spacing="0.9" fill="#56410f" stroke="#56410f" stroke-width="0.1">mars 2017</text>
<text transform="translate(905.30,467.8) rotate(-60) scale(0.87,1)" text-anchor="end" font-size="10" word-spacing="0.9" fill="#56410f" stroke="#56410f" stroke-width="0.1">avr. 2017</text>
<rect x="417.5" y="517.5" width="213" height="15" fill="#777" fill-opacity="0.7" filter="url(#sh)"/>
<rect x="415.5" y="515.5" width="213" height="15" fill="#fff8dc" stroke="#654b1c" stroke-width="1"/>
<rect x="418.5" y="518.5" width="8" height="8" fill="#3399ff" stroke="#5a0a00" stroke-width="1"/>
<text transform="translate(429.2,526.2) scale(0.897,1)" font-size="10.4" fill="#4a3812">Prévision de base</text>
<rect x="505.5" y="518.5" width="8" height="8" fill="#0066cc" stroke="#8b2a00" stroke-width="1"/>
<text transform="translate(516.2,526.2) scale(0.9,1)" font-size="10.4" fill="#4a3812">Prévision de vente</text>
<rect x="595.5" y="518.5" width="8" height="8" fill="#99cc33" stroke="#9a3a0a" stroke-width="1"/>
<text transform="translate(605.9000000000001,526.2) scale(0.94,1)" font-size="10.4" fill="#4a3812">Réel</text>
</svg></body></html>
